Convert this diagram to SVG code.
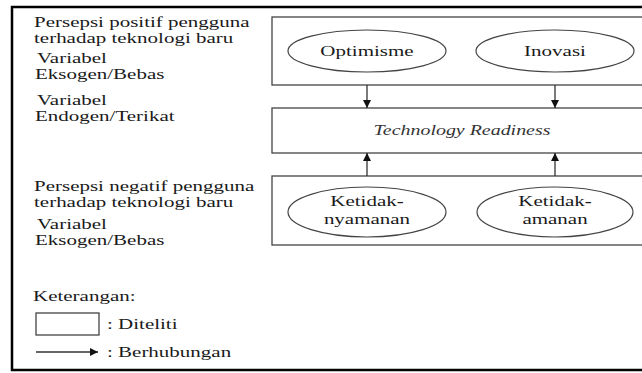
<svg xmlns="http://www.w3.org/2000/svg" width="642" height="373" viewBox="0 0 642 373">
<defs>
<style>
text{font-family:"Liberation Serif","Times New Roman",serif;font-size:15px;fill:#1a1a1a}
.c{text-anchor:middle}
.i{font-style:italic;fill:#333}
.b{font-weight:bold}
.box{fill:#fff;stroke:#444;stroke-width:1.3}
.ell{fill:#fff;stroke:#444;stroke-width:1.2}
.conn{stroke:#333;stroke-width:1.3;fill:none}
</style>
<marker id="ah" viewBox="0 0 10 10" refX="10" refY="5" markerWidth="8" markerHeight="9" markerUnits="userSpaceOnUse" orient="auto">
<path d="M0,0 L10,5 L0,10 z" fill="#111"/>
</marker>
</defs>
<rect x="0" y="0" width="642" height="373" fill="#fff"/>
<rect x="12" y="7" width="700" height="363" fill="none" stroke="#000" stroke-width="2.5"/>

<g id="labels">
<text transform="translate(34,27) scale(1.4,1)">Persepsi positif pengguna</text>
<text transform="translate(34,43) scale(1.4,1)">terhadap teknologi baru</text>
<text transform="translate(37,63) scale(1.4,1)">Variabel</text>
<text transform="translate(35,79) scale(1.4,1)">Eksogen/Bebas</text>
<text transform="translate(37,105) scale(1.4,1)">Variabel</text>
<text transform="translate(35,121) scale(1.4,1)">Endogen/Terikat</text>
<text transform="translate(34,191) scale(1.4,1)">Persepsi negatif pengguna</text>
<text transform="translate(34,207) scale(1.4,1)">terhadap teknologi baru</text>
<text transform="translate(37,229) scale(1.4,1)">Variabel</text>
<text transform="translate(35,245) scale(1.4,1)">Eksogen/Bebas</text>
</g>

<g id="box-positif">
<rect class="box" x="272" y="17" width="440" height="68"/>
</g>
<g id="node-optimisme">
<ellipse class="ell" cx="367" cy="51" rx="79" ry="21"/>
<text class="c" transform="translate(367,56) scale(1.4,1)">Optimisme</text>
</g>
<g id="node-inovasi">
<ellipse class="ell" cx="555" cy="51" rx="79" ry="21"/>
<text class="c" transform="translate(555,56) scale(1.4,1)">Inovasi</text>
</g>
<g id="node-readiness">
<rect class="box" x="272" y="108" width="440" height="45"/>
<text class="c i" transform="translate(462,135) scale(1.33,1)">Technology Readiness</text>
</g>
<g id="box-negatif">
<rect class="box" x="272" y="176" width="440" height="69"/>
</g>
<g id="node-ketidaknyamanan">
<ellipse class="ell" cx="367" cy="212" rx="79" ry="25"/>
<text class="c" transform="translate(367,206) scale(1.4,1)">Ketidak<tspan class="b">-</tspan></text>
<text class="c" transform="translate(367,224) scale(1.4,1)">nyamanan</text>
</g>
<g id="node-ketidakamanan">
<ellipse class="ell" cx="555" cy="212" rx="78" ry="25"/>
<text class="c" transform="translate(555,206) scale(1.4,1)">Ketidak<tspan class="b">-</tspan></text>
<text class="c" transform="translate(555,224) scale(1.4,1)">amanan</text>
</g>

<g id="connectors">
<line class="conn" x1="367" y1="85" x2="367" y2="108" marker-end="url(#ah)"/>
<line class="conn" x1="555" y1="85" x2="555" y2="108" marker-end="url(#ah)"/>
<line class="conn" x1="367" y1="176" x2="367" y2="153" marker-end="url(#ah)"/>
<line class="conn" x1="555" y1="176" x2="555" y2="153" marker-end="url(#ah)"/>
</g>

<g id="legend">
<text transform="translate(33,301) scale(1.4,1)">Keterangan:</text>
<rect class="box" x="36" y="313" width="63" height="22"/>
<text transform="translate(107,329) scale(1.4,1)">: Diteliti</text>
<line class="conn" x1="36" y1="352" x2="98" y2="352" marker-end="url(#ah)"/>
<text transform="translate(107,357) scale(1.4,1)">: Berhubungan</text>
</g>
</svg>
